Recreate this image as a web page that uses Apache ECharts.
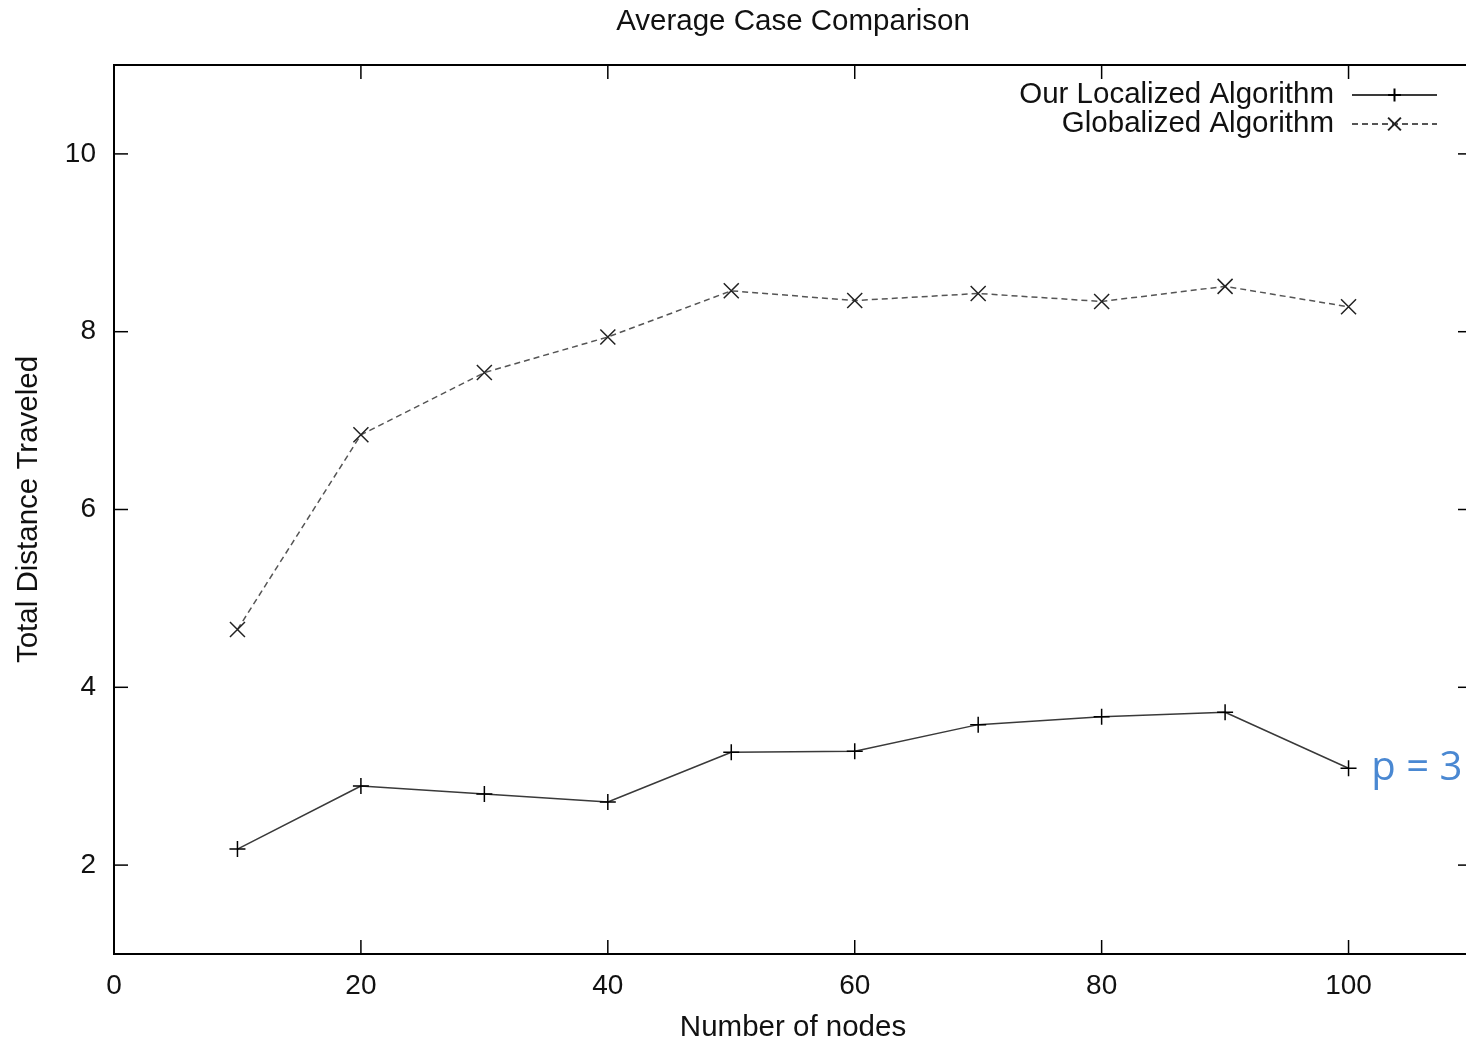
<!DOCTYPE html>
<html>
<head>
	<title>Average Case Comparison</title>
	<meta charset="utf-8" />
	<script type="text/javascript" src="https://cdn.jsdelivr.net/npm/echarts@6/dist/echarts.min.js"></script>
	<style type="text/css">
		html, body{
			margin: 0;
			padding: 0;
			overflow: hidden;
			background: #fff;
		}
		#container{
			width: 1480px;
			height: 1043px;
		}
	</style>
</head>
<body>
<div id="container"></div>
</body>

<script type="text/javascript">
	// data
	var nodes = [10, 20, 30, 40, 50, 60, 70, 80, 90, 100];
	var localized = [2.18, 2.89, 2.80, 2.71, 3.27, 3.28, 3.58, 3.67, 3.72, 3.09];
	var globalized = [4.65, 6.84, 7.54, 7.94, 8.46, 8.35, 8.43, 8.34, 8.51, 8.28];
	var xTicks = [0, 20, 40, 60, 80, 100];
	var yTicks = [2, 4, 6, 8, 10];
	var seriesNames = ['Our Localized Algorithm', 'Globalized Algorithm'];
	var noteText = 'p = 3';

	var X_MIN = 0, X_MAX = 110, Y_MIN = 1, Y_MAX = 11;
	var TICK = 14;

	var FONT = '"Liberation Sans", Arial, sans-serif';
	var PLUS = 'path://M5,0V10M0,5H10';
	var CROSS = 'path://M0,0L10,10M10,0L0,10';

	function pairs(ys){
		return ys.map(function(y, i){ return [nodes[i], y]; });
	}

	var localData = pairs(localized);
	// the blue note sits next to the last point
	localData[localData.length - 1] = {
		value: localData[localData.length - 1],
		label: {
			show: true,
			position: 'right',
			distance: 14,
			formatter: noteText,
			color: '#4a88d2',
			fontSize: 40,
			fontFamily: '"Open Sans", "Noto Sans", sans-serif'
		}
	};

	var chart = echarts.init(document.getElementById("container"));

	var tickStyle = { stroke: '#000', lineWidth: 1.5 };

	function tickLine(x1, y1, x2, y2){
		return { type: 'line', shape: { x1: x1, y1: y1, x2: x2, y2: y2 }, style: tickStyle };
	}

	// gnuplot style ticks, pointing inward on all four sides
	function xTickItem(params, api){
		var v = api.value(0);
		var b = api.coord([v, Y_MIN]);
		var t = api.coord([v, Y_MAX]);
		return { type: 'group', children: [
			tickLine(b[0], b[1], b[0], b[1] - TICK),
			tickLine(t[0], t[1], t[0], t[1] + TICK)
		]};
	}
	function yTickItem(params, api){
		var v = api.value(1);
		var l = api.coord([X_MIN, v]);
		var r = api.coord([X_MAX, v]);
		return { type: 'group', children: [
			tickLine(l[0], l[1], l[0] + TICK, l[1]),
			tickLine(r[0], r[1], r[0] - TICK, r[1])
		]};
	}

	function legendOf(name, top){
		return {
			data: [name],
			right: 37,
			top: top,
			orient: 'vertical',
			align: 'right',
			itemWidth: 85,
			itemHeight: 16,
			selectedMode: false,
			textStyle: {
				fontSize: 29.5,
				fontFamily: FONT,
				color: '#111',
				padding: [0, 13, 0, 0]
			}
		};
	}

	var nameStyle = { fontSize: 29.5, fontFamily: FONT, color: '#111' };

	var options = {
		animation: false,
		backgroundColor: '#fff',
		title: {
			text: 'Average Case Comparison',
			left: 793,
			top: 7,
			padding: 0,
			textAlign: 'center',
			textStyle: {
				fontSize: 29.5,
				fontWeight: 'normal',
				fontFamily: FONT,
				color: '#111'
			}
		},
		legend: [legendOf(seriesNames[0], 75), legendOf(seriesNames[1], 104)],
		grid: {
			left: 114,
			top: 65,
			width: 1358,
			height: 889,
			outerBoundsMode: 'none',
			containLabel: false,
			show: true,
			borderColor: '#000',
			borderWidth: 2,
			backgroundColor: 'transparent'
		},
		xAxis: {
			type: 'value',
			min: X_MIN,
			max: X_MAX,
			interval: 20,
			name: 'Number of nodes',
			nameLocation: 'middle',
			nameGap: 59,
			nameTextStyle: nameStyle,
			axisLine: { show: false },
			splitLine: { show: false },
			axisTick: { show: false },
			axisLabel: { customValues: xTicks, fontSize: 28, fontFamily: FONT, color: '#111', margin: 18 }
		},
		yAxis: {
			type: 'value',
			min: Y_MIN,
			max: Y_MAX,
			name: 'Total Distance Traveled',
			nameLocation: 'middle',
			nameGap: 70,
			nameTextStyle: nameStyle,
			axisLine: { show: false },
			splitLine: { show: false },
			axisTick: { show: false },
			axisLabel: { customValues: yTicks, fontSize: 28, fontFamily: FONT, color: '#111', margin: 18 }
		},
		series: [
			{
				type: 'custom',
				silent: true,
				clip: false,
				renderItem: xTickItem,
				data: xTicks.map(function(v){ return [v, Y_MIN]; })
			},
			{
				type: 'custom',
				silent: true,
				clip: false,
				renderItem: yTickItem,
				data: yTicks.map(function(v){ return [X_MIN, v]; })
			},
			{
				name: seriesNames[0],
				type: 'line',
				data: localData,
				symbol: PLUS,
				symbolSize: 16,
				itemStyle: { color: '#000', borderColor: '#000', borderWidth: 1.5 },
				lineStyle: { color: '#3a3a3a', width: 1.5, type: 'solid' }
			},
			{
				name: seriesNames[1],
				type: 'line',
				data: pairs(globalized),
				symbol: CROSS,
				symbolSize: 15,
				itemStyle: { color: '#000', borderColor: '#222', borderWidth: 1.5 },
				lineStyle: { color: '#555', width: 1.5, type: [6, 4] }
			}
		]
	};

	chart.setOption(options);
</script>

</html>
